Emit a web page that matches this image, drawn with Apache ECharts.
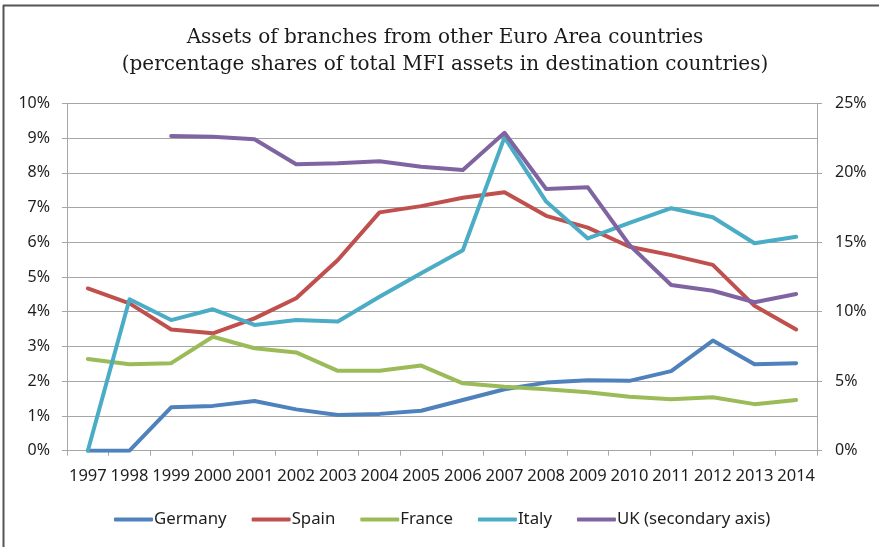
<!DOCTYPE html>
<html>
<head>
<meta charset="utf-8">
<script src="https://cdn.jsdelivr.net/npm/echarts@6/dist/echarts.min.js"></script>
<style>
  html, body { margin: 0; padding: 0; background: #fff; }
  #chart { width: 879px; height: 547px; }
</style>
</head>
<body>
<div id="chart"></div>
<script>
// Years on the category axis
const years = ['1997','1998','1999','2000','2001','2002','2003','2004','2005','2006',
               '2007','2008','2009','2010','2011','2012','2013','2014'];

// Shares of total MFI assets (%), primary axis
const germany = [0, 0, 1.25, 1.29, 1.43, 1.19, 1.03, 1.06, 1.15, 1.46,
                 1.77, 1.96, 2.03, 2.01, 2.29, 3.17, 2.49, 2.52];
const spain   = [4.67, 4.24, 3.49, 3.38, 3.81, 4.39, 5.49, 6.86, 7.04, 7.28,
                 7.44, 6.76, 6.42, 5.87, 5.63, 5.35, 4.17, 3.49];
const france  = [2.64, 2.49, 2.52, 3.28, 2.95, 2.83, 2.30, 2.30, 2.45, 1.94,
                 1.84, 1.77, 1.68, 1.55, 1.48, 1.54, 1.34, 1.46];
const italy   = [0, 4.36, 3.76, 4.07, 3.62, 3.76, 3.72, 4.43, 5.11, 5.77,
                 9.02, 7.17, 6.11, 6.56, 6.98, 6.72, 5.97, 6.16];
// UK (%), secondary axis
const uk      = [null, null, 22.65, 22.60, 22.41, 20.61, 20.68, 20.83, 20.44, 20.20,
                 22.88, 18.83, 18.95, 14.80, 11.92, 11.51, 10.68, 11.28];

const seriesNames = ['Germany', 'Spain', 'France', 'Italy', 'UK (secondary axis)'];
const colors = ['#4f81bd', '#c0504d', '#9bbb59', '#4bacc6', '#8064a2'];

const sansFont = "'Noto Sans', 'Open Sans', sans-serif";
const gridColor = '#a6a6a6';
const textColor = '#1e1e1e';

function lineSeries(name, data, color, axisIndex) {
  return {
    name: name,
    type: 'line',
    data: data,
    yAxisIndex: axisIndex,
    symbol: 'none',
    connectNulls: false,
    lineStyle: { color: color, width: 4, cap: 'round', join: 'round' },
    itemStyle: { color: color },
    emphasis: { disabled: true }
  };
}

const chart = echarts.init(document.getElementById('chart'), null, { renderer: 'canvas' });

chart.setOption({
  animation: false,
  backgroundColor: '#ffffff',
  color: colors,
  title: {
    text: 'Assets of branches from other Euro Area countries\n(percentage shares of total MFI assets in destination countries)',
    left: 440,
    top: 19,
    textAlign: 'center',
    textStyle: {
      fontFamily: "'DejaVu Serif', 'Liberation Serif', serif",
      fontSize: 20,
      fontWeight: 'normal',
      lineHeight: 27,
      color: '#1a1a1a'
    }
  },
  graphic: [
    { type: 'line', shape: { x1: 3, y1: 5.5, x2: 879, y2: 5.5 }, style: { stroke: '#555555', lineWidth: 2 } },
    { type: 'line', shape: { x1: 3.5, y1: 5, x2: 3.5, y2: 547 }, style: { stroke: '#555555', lineWidth: 2 } }
  ],
  legend: {
    data: seriesNames,
    left: 109,
    top: 506,
    icon: 'roundRect',
    itemWidth: 39,
    itemHeight: 4,
    itemGap: 25,
    textStyle: { fontFamily: sansFont, fontSize: 16.8, color: textColor, padding: [0, 0, 0, -4] }
  },
  grid: { left: 67, right: 62, top: 103.3, bottom: 96.3, containLabel: false },
  xAxis: {
    type: 'category',
    data: years,
    boundaryGap: true,
    axisLine: { lineStyle: { color: gridColor, width: 1 } },
    axisTick: { show: true, length: 5, alignWithLabel: false, lineStyle: { color: gridColor } },
    axisLabel: { margin: 17, interval: 0, fontFamily: sansFont, fontSize: 16.5, color: textColor }
  },
  yAxis: [
    {
      type: 'value',
      min: 0, max: 10, interval: 1,
      position: 'left',
      axisLine: { show: true, lineStyle: { color: gridColor } },
      axisTick: { show: true, length: 5, lineStyle: { color: gridColor } },
      splitLine: { show: true, lineStyle: { color: gridColor, width: 1 } },
      axisLabel: { formatter: '{value}%', margin: 17, fontFamily: sansFont, fontSize: 16, color: textColor }
    },
    {
      type: 'value',
      min: 0, max: 25, interval: 5,
      position: 'right',
      axisLine: { show: true, lineStyle: { color: gridColor } },
      axisTick: { show: true, length: 5, lineStyle: { color: gridColor } },
      splitLine: { show: false },
      axisLabel: { formatter: '{value}%', margin: 18, fontFamily: sansFont, fontSize: 16, color: textColor }
    }
  ],
  series: [
    lineSeries(seriesNames[0], germany, colors[0], 0),
    lineSeries(seriesNames[1], spain, colors[1], 0),
    lineSeries(seriesNames[2], france, colors[2], 0),
    lineSeries(seriesNames[3], italy, colors[3], 0),
    lineSeries(seriesNames[4], uk, colors[4], 1)
  ]
});
</script>
</body>
</html>
